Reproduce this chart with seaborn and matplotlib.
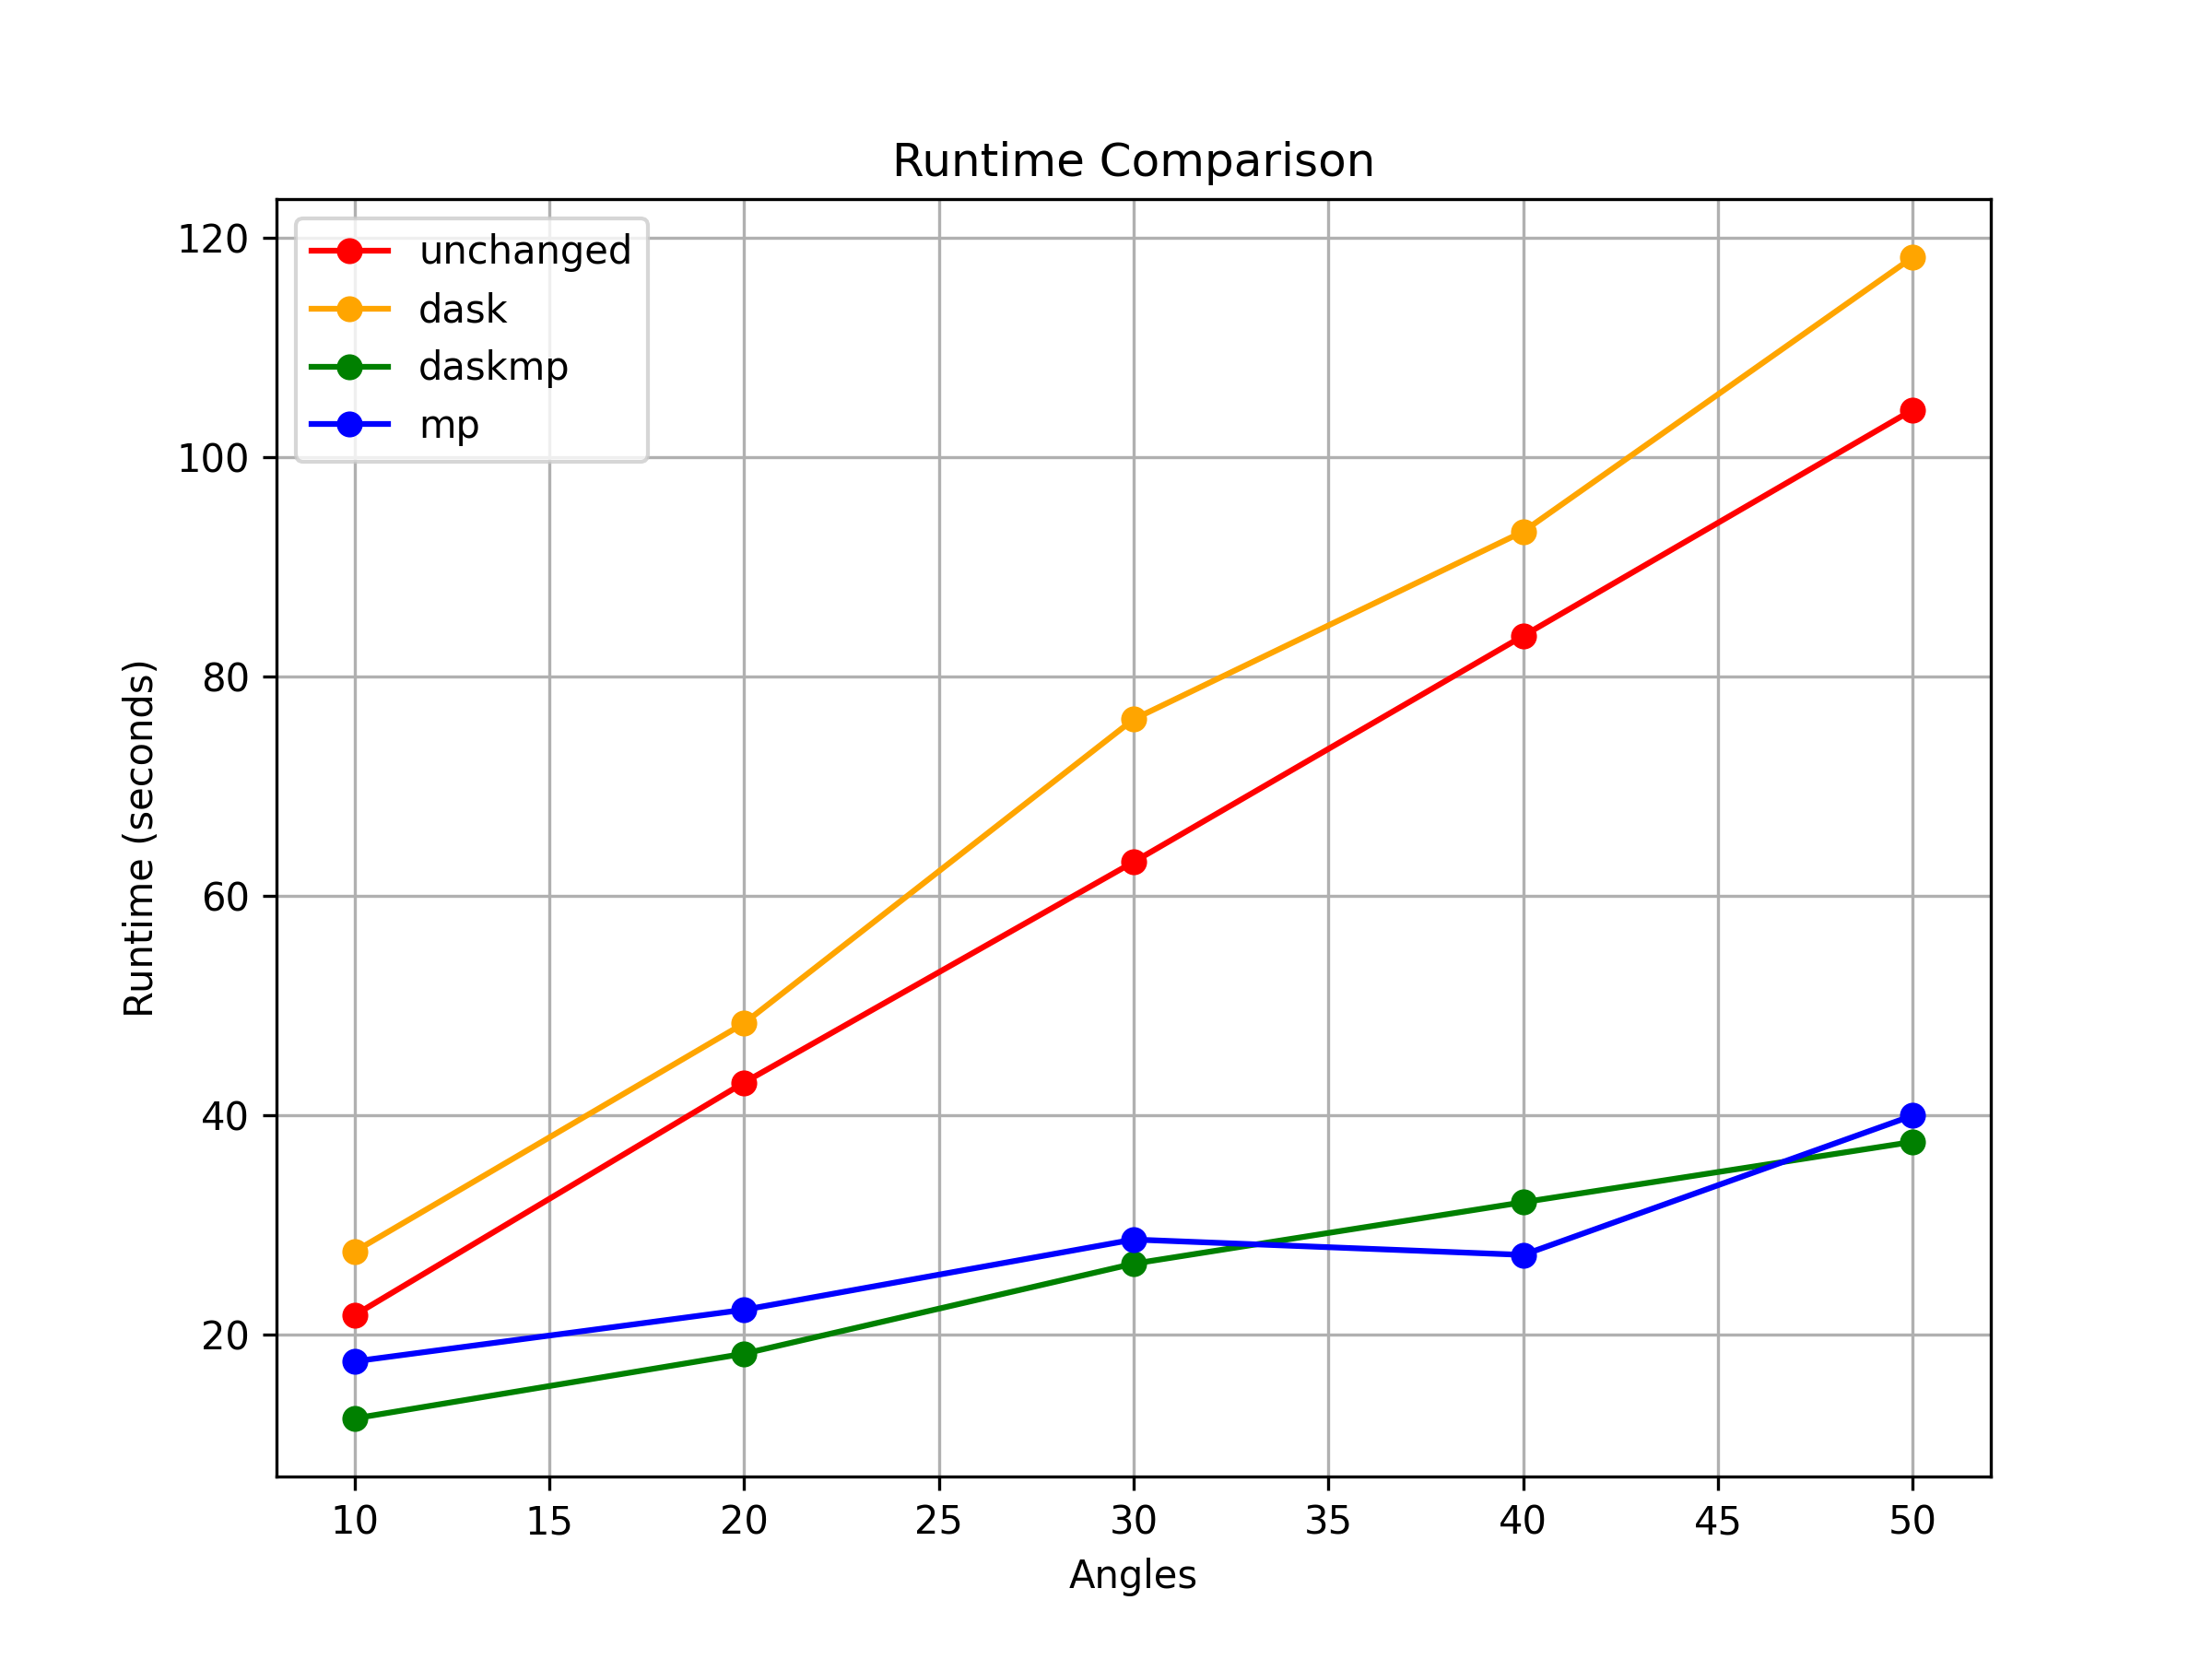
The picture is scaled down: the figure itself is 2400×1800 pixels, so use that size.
import matplotlib
matplotlib.use("Agg")
import matplotlib.pyplot as plt
import pandas as pd
import seaborn as sns

angles = [10, 20, 30, 40, 50]
unchanged = [21.8, 43.0, 63.1, 83.7, 104.3]
dask = [27.6, 48.4, 76.1, 93.2, 118.2]
daskmp = [12.4, 18.3, 26.5, 32.1, 37.6]
mp = [17.6, 22.3, 28.7, 27.3, 40.0]

series = {"unchanged": unchanged, "dask": dask, "daskmp": daskmp, "mp": mp}
colors = {"unchanged": "red", "dask": "orange", "daskmp": "green", "mp": "blue"}

df = pd.DataFrame(
    [(a, name, v) for name, vals in series.items() for a, v in zip(angles, vals)],
    columns=["Angles", "method", "Runtime"],
)

fig, ax = plt.subplots(figsize=(8, 6), dpi=300)
for name in series:
    sns.lineplot(data=df[df["method"] == name], x="Angles", y="Runtime",
                 color=colors[name], marker="o", markeredgecolor=colors[name],
                 label=name, ax=ax)

ax.set_title("Runtime Comparison")
ax.set_xlabel("Angles")
ax.set_ylabel("Runtime (seconds)")
ax.grid(True)
ax.legend(loc="upper left")
fig.savefig("out.png")
